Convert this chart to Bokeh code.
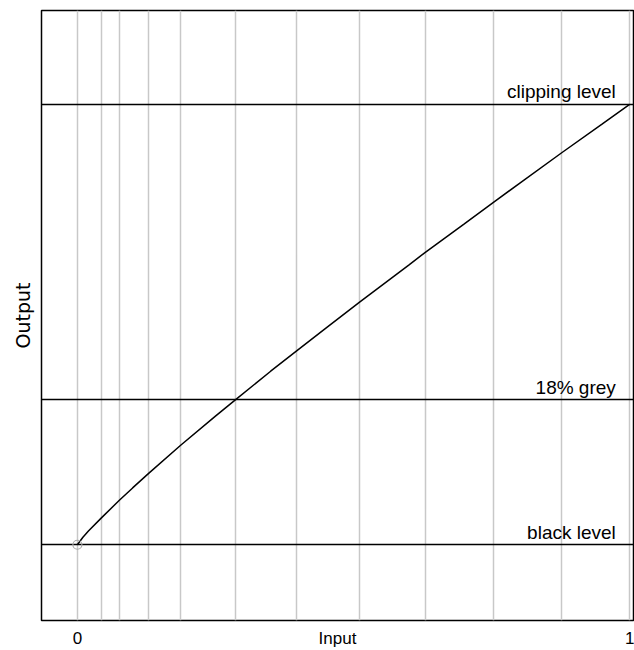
from bokeh.plotting import figure
from bokeh.models import Range1d, FixedTicker
from bokeh.core.properties import value
from bokeh.embed import file_html
from bokeh.resources import INLINE

# data
stops = [0.0, 0.0435, 0.076, 0.129, 0.187, 0.286, 0.397, 0.511, 0.630, 0.754, 0.877, 1.0]
curve_x = [0.0, 0.01, 0.02, 0.0435, 0.076, 0.1, 0.129, 0.187, 0.25, 0.286, 0.35, 0.397,
           0.45, 0.511, 0.6, 0.63, 0.7, 0.754, 0.8, 0.877, 0.95, 1.0]
curve_y = [0.0, 0.017, 0.031, 0.061, 0.101, 0.129, 0.162, 0.226, 0.292, 0.329, 0.394, 0.440,
           0.492, 0.551, 0.635, 0.664, 0.728, 0.778, 0.820, 0.890, 0.955, 1.0]
level_names = ["black level", "18% grey", "clipping level"]
level_values = [0.0, 0.329, 1.0]
x_ticks = [0.0, 0.471, 1.0]
x_tick_labels = ["0", "Input", "1"]

FONT = "Liberation Sans"

p = figure(width=634, height=650, output_backend="svg", toolbar_location=None,
           x_range=Range1d(-0.065, 1.007), y_range=Range1d(-0.172, 1.213),
           min_border_left=41, min_border_right=1, min_border_top=10, min_border_bottom=29)

p.outline_line_color = "black"
p.outline_line_width = 1.5
p.outline_line_alpha = 1.0

# grid
p.ygrid.visible = False
p.xgrid.ticker = FixedTicker(ticks=stops)
p.xgrid.grid_line_color = "#c8c8c8"
p.xgrid.grid_line_width = 1.5

# x axis
p.xaxis.ticker = FixedTicker(ticks=x_ticks)
p.xaxis.major_label_overrides = {t: l for t, l in zip(x_ticks, x_tick_labels)}
p.xaxis.axis_line_color = None
p.xaxis.major_tick_line_color = None
p.xaxis.minor_tick_line_color = None
p.xaxis.major_tick_out = 0
p.xaxis.major_label_standoff = 8
p.xaxis.major_label_text_font = FONT
p.xaxis.major_label_text_font_size = "17px"
p.xaxis.major_label_text_color = "black"

# y axis
p.yaxis.ticker = FixedTicker(ticks=[])
p.yaxis.axis_line_color = None
p.yaxis.major_tick_line_color = None
p.yaxis.minor_tick_line_color = None
p.yaxis.major_tick_out = 0
p.yaxis.axis_label = "Output"
p.yaxis.axis_label_text_font = "DejaVu Sans"
p.yaxis.axis_label_text_font_style = "normal"
p.yaxis.axis_label_text_font_size = "19px"
p.yaxis.axis_label_text_color = "black"
p.yaxis.axis_label_standoff = 8

# level lines
p.hspan(y=level_values, line_color="black", line_width=1.4)

# level labels
p.text(x=[0.975] * len(level_values), y=level_values, text=level_names,
       text_align="right", text_baseline="bottom", y_offset=-2,
       text_font=value(FONT), text_font_size="19px", text_color="black")

# curve
p.line(curve_x, curve_y, line_color="black", line_width=1.5)
p.scatter([curve_x[0]], [curve_y[0]], marker="circle", size=9,
          fill_color=None, line_color="#aaaaaa", line_width=1.2)

open("out.html", "w").write(file_html(p, INLINE))
